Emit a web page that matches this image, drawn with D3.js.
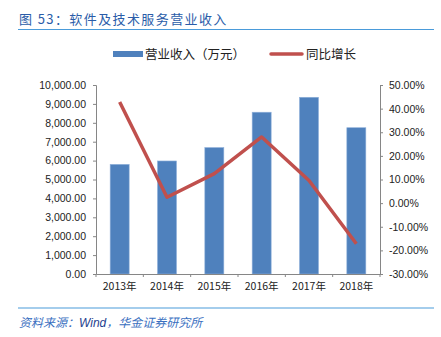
<!DOCTYPE html>
<html><head><meta charset="utf-8">
<script src="https://cdn.jsdelivr.net/npm/d3@7"></script>
<style>body{margin:0;background:#fff}svg{display:block}</style>
</head><body>
<script>
const categories = ["2013年","2014年","2015年","2016年","2017年","2018年"];
const revenue = [5800, 5980, 6690, 8560, 9350, 7740];
const growth = [42.8, 2.5, 12.5, 28.0, 9.6, -17.2];
const leftTicks = [0,1000,2000,3000,4000,5000,6000,7000,8000,9000,10000];
const rightTicks = [-30,-20,-10,0,10,20,30,40,50];
const title = "图 53：软件及技术服务营业收入";
const sourceA = "资料来源：";
const sourceB = "Wind";
const sourceC = "，华金证券研究所";
const legendBar = "营业收入（万元）";
const legendLine = "同比增长";

const W = 441, H = 337;
const font = "'Noto Sans CJK SC', 'Liberation Sans', sans-serif";
const svg = d3.select("body").append("svg").attr("width", W).attr("height", H);

// title
svg.append("text").attr("x", 19).attr("y", 23.5).text(title)
  .attr("font-family", font).attr("font-size", 13).attr("fill", "#2A5CA8").attr("letter-spacing", 1.4);
svg.append("line").attr("x1", 18).attr("x2", 434).attr("y1", 29.5).attr("y2", 29.5)
  .attr("stroke", "#4A9BDA").attr("stroke-width", 1.2);

const x0 = 96, x1 = 380, yTop = 85, yBot = 274;
const xb = d3.scaleBand().domain(categories).range([x0, x1]);
const yL = d3.scaleLinear().domain([0, 10000]).range([yBot, yTop]);
const yR = d3.scaleLinear().domain([-30, 50]).range([yBot, yTop]);

// bars
svg.append("g").selectAll("rect").data(revenue).join("rect")
  .attr("x", (d,i) => xb(categories[i]) + xb.bandwidth()/2 - 9.5)
  .attr("width", 19)
  .attr("y", d => yL(d)).attr("height", d => yBot - yL(d))
  .attr("fill", "#4F81BD").attr("stroke", "#8FB0DA").attr("stroke-width", 0.6);

// axes
const axisColor = "#868686";
const gl = svg.append("g").attr("transform", `translate(${x0},0)`)
  .call(d3.axisLeft(yL).tickValues(leftTicks).tickSize(3).tickFormat(d3.format(",.2f")));
const gr = svg.append("g").attr("transform", `translate(${x1},0)`)
  .call(d3.axisRight(yR).tickValues(rightTicks).tickSize(3).tickFormat(d => d.toFixed(2) + "%"));
const gx = svg.append("g").attr("transform", `translate(0,${yBot})`)
  .call(d3.axisBottom(xb).tickSize(0));
svg.append("g").selectAll("line").data(d3.range(categories.length + 1)).join("line")
  .attr("x1", i => x0 + i * xb.step()).attr("x2", i => x0 + i * xb.step())
  .attr("y1", yBot).attr("y2", yBot + 3).attr("stroke", axisColor);

[gl, gr, gx].forEach(g => {
  g.select(".domain").attr("stroke", axisColor);
  g.selectAll(".tick line").attr("stroke", axisColor);
  g.selectAll("text").attr("font-family", "'Liberation Sans', Arial, sans-serif")
    .attr("font-size", 10.5).attr("fill", "#222");
});
gl.selectAll("text").attr("x", -10);
gr.selectAll("text").attr("x", 9);
gx.selectAll("text").attr("y", 9).attr("font-family", font).attr("font-size", 10.5);

// line
const line = d3.line().x((d,i) => xb(categories[i]) + xb.bandwidth()/2).y(d => yR(d));
svg.append("path").datum(growth).attr("d", line)
  .attr("fill", "none").attr("stroke", "#C0504D").attr("stroke-width", 3.5)
  .attr("stroke-linejoin", "round");

// legend
svg.append("rect").attr("x", 113).attr("y", 51).attr("width", 30).attr("height", 6).attr("fill", "#4F81BD");
svg.append("text").attr("x", 145).attr("y", 58.5).text(legendBar)
  .attr("font-family", font).attr("font-size", 12.5).attr("fill", "#222");
svg.append("line").attr("x1", 271).attr("x2", 302).attr("y1", 54).attr("y2", 54)
  .attr("stroke", "#C0504D").attr("stroke-width", 3.5).attr("stroke-linecap", "round");
svg.append("text").attr("x", 306).attr("y", 58.5).text(legendLine)
  .attr("font-family", font).attr("font-size", 12.5).attr("fill", "#222");

// footer
svg.append("line").attr("x1", 18).attr("x2", 434).attr("y1", 308).attr("y2", 308)
  .attr("stroke", "#4A9BDA").attr("stroke-width", 1.2);
const src = svg.append("text").attr("x", 19).attr("y", 326.5)
  .attr("font-family", font).attr("font-size", 12).attr("font-style", "italic").attr("fill", "#3A6FBF");
src.append("tspan").text(sourceA);
src.append("tspan").text(sourceB).attr("fill", "#1F3F8F").attr("font-family", "'Liberation Sans', Arial, sans-serif");
src.append("tspan").text(sourceC);
</script>
</body></html>
